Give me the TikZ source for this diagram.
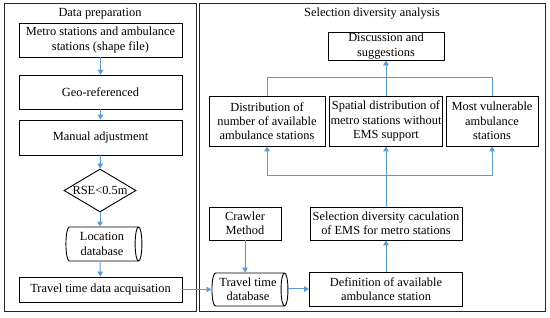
\documentclass[tikz,border=0pt]{standalone}
\usepackage{fontspec}
\setmainfont{Liberation Serif}
\usetikzlibrary{shapes.geometric,arrows.meta}
\definecolor{arrowblue}{RGB}{91,155,213}
\begin{document}
\begin{tikzpicture}[x=1pt,y=-1pt,
  every node/.style={font=\fontsize{12.4}{14.3}\selectfont, inner sep=0pt, align=center},
  panel/.style={draw=black!85, line width=1pt},
  box/.style={draw, line width=0.9pt, rectangle},
  dec/.style={draw, line width=0.9pt, diamond, aspect=1.7},
  db/.style={draw, line width=0.9pt, cylinder, aspect=0.3},
  conn/.style={draw=arrowblue, line width=1pt},
  arr/.style={conn, -{Triangle[width=5.5pt,length=5pt]}}
]
\useasboundingbox (0,0) rectangle (550,318);
% panels
\draw[panel] (4,4) rectangle (196,312);
\draw[panel] (199,4) rectangle (545,312);
\node (t1) at (100,14) {Data preparation};
\node (t2) at (372,14) {Selection diversity analysis};

% left column
\node[box, minimum width=163pt, minimum height=34pt] (m1) at (100.5,40) {Metro stations and ambulance\\stations (shape file)};
\node[box, minimum width=163pt, minimum height=34pt] (m2) at (100.5,92) {Geo-referenced};
\node[box, minimum width=163pt, minimum height=35pt] (m3) at (100.5,137.5) {Manual adjustment};
\node[dec, minimum width=72pt, minimum height=43pt] (d1) at (100,190.5) {RSE<0.5m};
\node[db, minimum width=34pt, minimum height=76pt] (c1) at (102,244) {Location\\database};
\node[box, minimum width=163pt, minimum height=25pt] (m4) at (100.5,289.5) {Travel time data acquisation};

\draw[arr] (m1) -- (m2);
\draw[arr] (m2) -- (m3);
\draw[arr] (m3) -- (d1);
\draw[arr] (d1) -- (c1.north -| d1);
\draw[arr] (c1.south -| d1) -- (m4);

% right panel
\node[box, minimum width=116pt, minimum height=28pt] (ds) at (386,46) {Discussion and\\suggestions};
\node[box, minimum width=116pt, minimum height=50pt] (ra) at (267,121) {Distribution of\\number of available\\ambulance stations};
\node[box, minimum width=113pt, minimum height=50pt] (rb) at (386,121) {Spatial distribution of\\metro stations without\\EMS support};
\node[box, minimum width=92pt, minimum height=50pt] (rc) at (492,121) {Most vulnerable\\ambulance\\stations};
\node[box, minimum width=72pt, minimum height=33pt] (cr) at (245,223.5) {Crawler\\Method};
\node[box, minimum width=152pt, minimum height=33pt] (sd) at (386,223.5) {Selection diversity caculation\\of EMS for metro stations};
\node[db, minimum width=33pt, minimum height=76pt] (c2) at (248,289.5) {Travel time\\database};
\node[box, minimum width=153pt, minimum height=34pt] (df) at (386,289) {Definition of available\\ambulance station};

\coordinate (ua) at (267,78);
\coordinate (uc) at (492,78);
\coordinate (la) at (267,176);
\coordinate (lc) at (492,176);

\draw[arr] (m4.east) -- (c2.west |- m4.east);
\draw[arr] (cr) -- (cr.south |- c2.north);
\draw[arr] (c2.east |- df) -- (df.west);
\draw[arr] (df) -- (sd);
\draw[arr] (sd) -- (rb);
\draw[conn] (la) -- (lc);
\draw[arr] (la) -- (ra.south);
\draw[arr] (lc) -- (rc.south);
\draw[arr] (rb) -- (ds);
\draw[conn] (ra.north) -- (ua) -- (uc) -- (rc.north);
\end{tikzpicture}
\end{document}
